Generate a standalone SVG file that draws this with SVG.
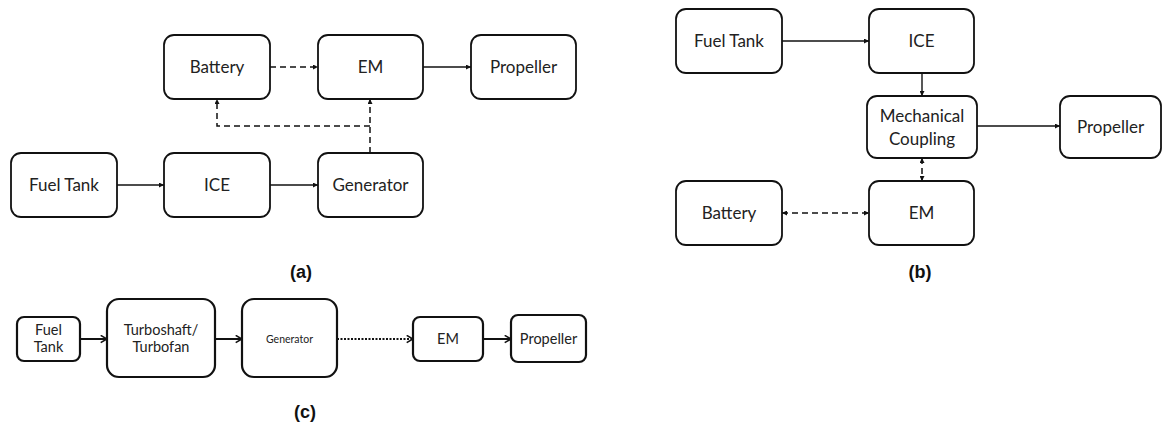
<svg xmlns="http://www.w3.org/2000/svg" width="1162" height="423" viewBox="0 0 1162 423">
<style>
.box{fill:#fff;stroke:#111;stroke-width:1.8}
.boxc{fill:#fff;stroke:#111;stroke-width:2.2}
.t{font-family:Lato,"Open Sans",sans-serif;font-size:17px;fill:#222;text-anchor:middle}
.tc{font-family:Lato,"Open Sans",sans-serif;font-size:14.5px;fill:#222;text-anchor:middle}
.lab{font-family:"Liberation Sans",Arial,sans-serif;font-size:18px;font-weight:bold;fill:#111;text-anchor:middle}
.ln{fill:none;stroke:#111;stroke-width:1.4}
.dash{fill:none;stroke:#111;stroke-width:1.5;stroke-dasharray:6 4}
.lnc{fill:none;stroke:#111;stroke-width:2}
.dot{fill:none;stroke:#111;stroke-width:2;stroke-dasharray:2 1.5}
</style>
<defs>
<marker id="ah" viewBox="0 0 10 10" refX="10" refY="5" markerWidth="5" markerHeight="5" markerUnits="userSpaceOnUse" orient="auto-start-reverse"><path d="M0,0 L10,5 L0,10 z" fill="#111"/></marker>
<marker id="ch" viewBox="0 0 10 10" refX="9" refY="5" markerWidth="9" markerHeight="9" markerUnits="userSpaceOnUse" orient="auto"><path d="M2,1 L9,5 L2,9" fill="none" stroke="#111" stroke-width="1.8"/></marker>
</defs>

<!-- panel (a) -->
<g id="a-battery"><rect class="box" x="164" y="35" width="106" height="64" rx="10"/><text class="t" x="217" y="73">Battery</text></g>
<g id="a-em"><rect class="box" x="318" y="35" width="105" height="64" rx="10"/><text class="t" x="370.5" y="73">EM</text></g>
<g id="a-propeller"><rect class="box" x="471" y="35" width="105" height="64" rx="10"/><text class="t" x="523.5" y="73">Propeller</text></g>
<g id="a-fueltank"><rect class="box" x="11" y="153" width="106" height="64" rx="10"/><text class="t" x="64" y="191">Fuel Tank</text></g>
<g id="a-ice"><rect class="box" x="164" y="153" width="106" height="64" rx="10"/><text class="t" x="217" y="191">ICE</text></g>
<g id="a-generator"><rect class="box" x="318" y="153" width="105" height="64" rx="10"/><text class="t" x="370.5" y="191">Generator</text></g>
<text class="lab" x="301" y="278">(a)</text>

<!-- panel (b) -->
<g id="b-fueltank"><rect class="box" x="676" y="9" width="106" height="64" rx="10"/><text class="t" x="729" y="47">Fuel Tank</text></g>
<g id="b-ice"><rect class="box" x="869" y="9" width="105" height="64" rx="10"/><text class="t" x="921.5" y="47">ICE</text></g>
<g id="b-coupling"><rect class="box" x="867" y="96" width="110" height="62" rx="10"/><text class="t" x="922" y="122">Mechanical</text><text class="t" x="922" y="145">Coupling</text></g>
<g id="b-propeller"><rect class="box" x="1060" y="96" width="101" height="62" rx="10"/><text class="t" x="1110.5" y="133">Propeller</text></g>
<g id="b-battery"><rect class="box" x="676" y="181" width="106" height="64" rx="10"/><text class="t" x="729" y="219">Battery</text></g>
<g id="b-em"><rect class="box" x="869" y="181" width="105" height="64" rx="10"/><text class="t" x="921.5" y="219">EM</text></g>
<text class="lab" x="920" y="278">(b)</text>

<!-- panel (c) -->
<g id="c-fueltank"><rect class="boxc" x="17" y="317" width="63" height="44" rx="7"/><text class="tc" x="48.5" y="335">Fuel</text><text class="tc" x="48.5" y="352">Tank</text></g>
<g id="c-turbo"><rect class="boxc" x="107" y="299" width="108" height="78" rx="12"/><text class="tc" x="161" y="335">Turboshaft/</text><text class="tc" x="161" y="352">Turbofan</text></g>
<g id="c-generator"><rect class="boxc" x="242" y="299" width="95" height="78" rx="12"/><text class="tc" x="289.5" y="343" style="font-size:10.5px">Generator</text></g>
<g id="c-em"><rect class="boxc" x="413" y="317" width="70" height="44" rx="7"/><text class="tc" x="448" y="344">EM</text></g>
<g id="c-propeller"><rect class="boxc" x="511" y="315" width="75" height="47" rx="7"/><text class="tc" x="548.5" y="344">Propeller</text></g>
<text class="lab" x="305" y="418">(c)</text>

<g id="connectors">
<path class="dash" d="M270,67 H318" marker-end="url(#ah)"/>
<path class="ln" d="M423,67 H471" marker-end="url(#ah)"/>
<path class="ln" d="M117,185 H164" marker-end="url(#ah)"/>
<path class="ln" d="M270,185 H318" marker-end="url(#ah)"/>
<path class="dash" d="M370,153 V99" marker-end="url(#ah)"/>
<path class="dash" d="M370,126 H217 V99" marker-end="url(#ah)"/>

<path class="ln" d="M782,41 H869" marker-end="url(#ah)"/>
<path class="ln" d="M922,73 V96" marker-end="url(#ah)"/>
<path class="ln" d="M977,126 H1060" marker-end="url(#ah)"/>
<path class="dash" d="M922,158 V181" stroke-dasharray="3 3" marker-start="url(#ah)" marker-end="url(#ah)"/>
<path class="dash" d="M782,213 H869" marker-start="url(#ah)" marker-end="url(#ah)"/>

<path class="lnc" d="M80,339 H107" marker-end="url(#ch)"/>
<path class="lnc" d="M215,339 H242" marker-end="url(#ch)"/>
<path class="dot" d="M337,339 H413" marker-end="url(#ch)"/>
<path class="lnc" d="M483,339 H511" marker-end="url(#ch)"/>
</g>
</svg>
